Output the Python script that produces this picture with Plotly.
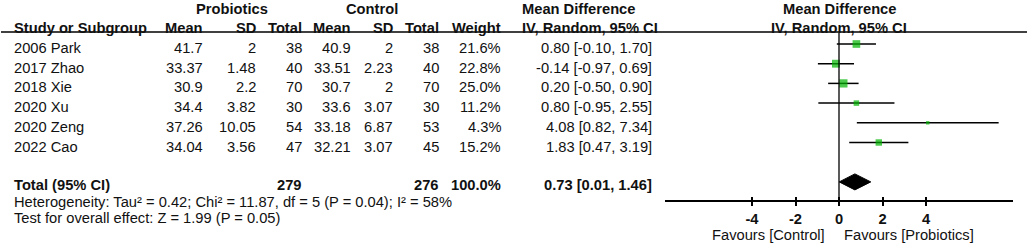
import plotly.graph_objects as go

# ---------------- data ----------------
studies = ["2006 Park", "2017 Zhao", "2018 Xie", "2020 Xu", "2020 Zeng", "2022 Cao"]
pro_mean = [41.7, 33.37, 30.9, 34.4, 37.26, 34.04]
pro_sd = [2, 1.48, 2.2, 3.82, 10.05, 3.56]
pro_n = [38, 40, 70, 30, 54, 47]
ctl_mean = [40.9, 33.51, 30.7, 33.6, 33.18, 32.21]
ctl_sd = [2, 2.23, 2, 3.07, 6.87, 3.07]
ctl_n = [38, 40, 70, 30, 53, 45]
weight = [21.6, 22.8, 25.0, 11.2, 4.3, 15.2]
md = [0.80, -0.14, 0.20, 0.80, 4.08, 1.83]
md_lo = [-0.10, -0.97, -0.50, -0.95, 0.82, 0.47]
md_hi = [1.70, 0.69, 0.90, 2.55, 7.34, 3.19]
total_pro = 279
total_ctl = 276
total_weight = 100.0
overall = [0.73]
overall_lo = [0.01]
overall_hi = [1.46]
heterogeneity = "Heterogeneity: Tau² = 0.42; Chi² = 11.87, df = 5 (P = 0.04); I² = 58%"
overall_test = "Test for overall effect: Z = 1.99 (P = 0.05)"
tick_vals = [-4, -2, 0, 2, 4]
x_range = [-8, 8]
favours_left = "Favours [Control]"
favours_right = "Favours [Probiotics]"

# ---------------- layout geometry ----------------
W, H = 1029, 244
ROW0 = 44.0     # pixel y of first study row (marker centre)
ROWH = 19.7     # row pitch in pixels
FS = 14.7
FONT = "Liberation Sans, Arial, sans-serif"
TXT = "#111111"
GREEN = "#00B400"


def py(p):
    """pixel y -> row units"""
    return (p - ROW0) / ROWH


def px(p):
    """pixel x -> paper fraction"""
    return p / W


rows = list(range(len(studies)))
total_row = len(studies) + 1

fig = go.Figure()

# CI lines
xs, ys = [], []
for i in rows:
    xs += [md_lo[i], md_hi[i], None]
    ys += [i, i, None]
fig.add_trace(go.Scatter(x=xs, y=ys, mode="lines", line=dict(color="black", width=1.5),
                         hoverinfo="skip", showlegend=False))

# study squares
sizes = [1.65 * (w ** 0.5) for w in weight]
fig.add_trace(go.Scatter(x=md, y=rows, mode="markers",
                         marker=dict(symbol="square", color=GREEN, size=sizes, line=dict(width=0)),
                         showlegend=False))

# overall diamond
dh = 8 / ROWH
fig.add_trace(go.Scatter(
    x=[overall_lo[0], overall[0], overall_hi[0], overall[0], overall_lo[0]],
    y=[total_row, total_row - dh, total_row, total_row + dh, total_row],
    mode="lines", fill="toself", fillcolor="black", line=dict(color="black", width=1),
    showlegend=False))

# second x axis (inside ticks so ticks cross the axis line)
fig.add_trace(go.Scatter(x=[None], y=[None], xaxis="x2", showlegend=False))

shapes = [
    # header underline
    dict(type="line", xref="paper", yref="y", x0=px(1), x1=px(1027), y0=py(32), y1=py(32),
         line=dict(color="black", width=1.5)),
    # line of no effect
    dict(type="line", xref="x", yref="y", x0=0, x1=0, y0=py(33), y1=py(201),
         line=dict(color="black", width=1.3)),
]

ann = []


def txt(xp, row, text, anchor="right", bold=False, shift=-4, xref="paper"):
    t = f"<b>{text}</b>" if bold else text
    ann.append(dict(x=px(xp) if xref == "paper" else xp, xref=xref, y=row, yref="y",
                    text=t, showarrow=False, xanchor=anchor, yanchor="middle", yshift=shift,
                    borderpad=0, font=dict(family=FONT, size=FS, color=TXT)))


# column right edges (px)
C_PM, C_PS, C_PN, C_CM, C_CS, C_CN, C_W, C_CI = 204, 257, 303, 352, 394, 440, 502, 653
STUDY_X = 13
MDH_X = 521

# headers
txt(232, -2, "Probiotics", "center", True)
txt(372, -2, "Control", "center", True)
txt(MDH_X, -2, "Mean Difference", "left", True)
txt(0, -2, "Mean Difference", "center", True, xref="x")
txt(STUDY_X, -1, "Study or Subgroup", "left", True)
for xp, h in [(C_PM, "Mean"), (C_PS, "SD"), (C_PN, "Total"), (C_CM, "Mean"), (C_CS, "SD"),
              (C_CN, "Total"), (C_W, "Weight")]:
    txt(xp, -1, h, "right", True)
txt(MDH_X, -1, "IV, Random, 95% CI", "left", True)
txt(0, -1, "IV, Random, 95% CI", "center", True, xref="x")

# study rows
for i in rows:
    txt(STUDY_X, i, studies[i], "left")
    txt(C_PM, i, f"{pro_mean[i]:g}")
    txt(C_PS, i, f"{pro_sd[i]:g}")
    txt(C_PN, i, f"{pro_n[i]}")
    txt(C_CM, i, f"{ctl_mean[i]:g}")
    txt(C_CS, i, f"{ctl_sd[i]:g}")
    txt(C_CN, i, f"{ctl_n[i]}")
    txt(C_W, i, f"{weight[i]:.1f}%")
    txt(C_CI, i, f"{md[i]:.2f} [{md_lo[i]:.2f}, {md_hi[i]:.2f}]")

# total row
txt(STUDY_X, total_row, "Total (95% CI)", "left", True, shift=-3)
txt(C_PN, total_row, f"{total_pro}", "right", True, shift=-3)
txt(C_CN, total_row, f"{total_ctl}", "right", True, shift=-3)
txt(C_W, total_row, f"{total_weight:.1f}%", "right", True, shift=-3)
txt(C_CI, total_row, f"{overall[0]:.2f} [{overall_lo[0]:.2f}, {overall_hi[0]:.2f}]", "right", True,
    shift=-3)

txt(STUDY_X, py(201.5), heterogeneity, "left", shift=0)
txt(STUDY_X, py(218), overall_test, "left", shift=0)

# favours
txt(826, py(235), favours_left, "right", shift=0)
txt(843, py(235), favours_right, "left", shift=0)

AX_POS = (H - 201) / H
xdom = [px(665), px(1013)]
fig.update_layout(
    width=W, height=H, autosize=False,
    margin=dict(l=0, r=0, t=0, b=0, pad=0),
    paper_bgcolor="white", plot_bgcolor="rgba(0,0,0,0)",
    xaxis=dict(domain=xdom, range=x_range, anchor="free", position=AX_POS,
               showline=True, linecolor="black", linewidth=2,
               ticks="outside", ticklen=4, tickwidth=1.5, tickcolor="black",
               tickvals=tick_vals, ticktext=[f"<b>{v}</b>" for v in tick_vals],
               tickfont=dict(family=FONT, size=FS, color=TXT),
               showgrid=False, zeroline=False, fixedrange=True),
    xaxis2=dict(domain=xdom, range=x_range, anchor="free", position=AX_POS, overlaying="x",
                showline=False, ticks="inside", ticklen=4, tickwidth=1.5, tickcolor="black",
                tickvals=tick_vals, showticklabels=False, showgrid=False, zeroline=False),
    yaxis=dict(domain=[0, 1], range=[py(H), py(0)], visible=False, fixedrange=True),
    shapes=shapes, annotations=ann,
)

fig.write_html("out.html", config={"displayModeBar": False},
               post_script="document.body.style.margin='0';")
